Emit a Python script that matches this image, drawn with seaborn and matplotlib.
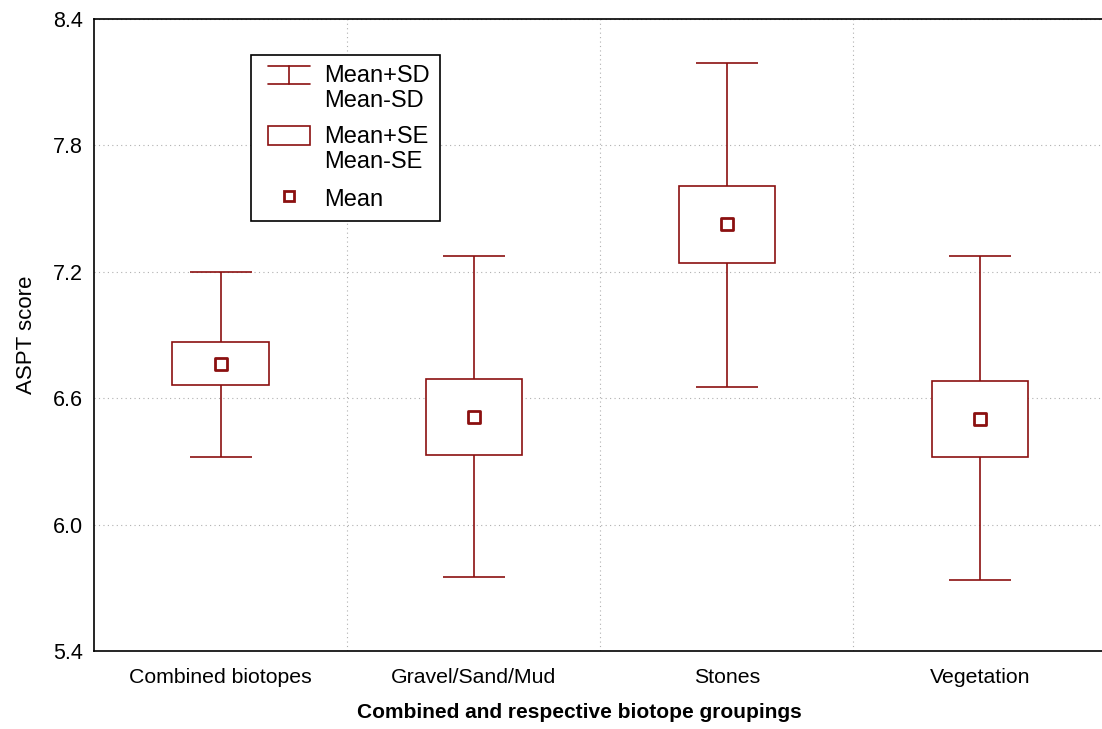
import matplotlib
matplotlib.use("Agg")
import matplotlib.pyplot as plt
import seaborn as sns
import pandas as pd
import numpy as np
from matplotlib.lines import Line2D
from matplotlib.patches import Rectangle
from matplotlib.legend_handler import HandlerBase

categories = ["Combined biotopes", "Gravel/Sand/Mud", "Stones", "Vegetation"]
mean = [6.763, 6.512, 7.425, 6.502]
se_low = [6.663, 6.332, 7.241, 6.322]
se_high = [6.867, 6.692, 7.605, 6.682]
sd_low = [6.322, 5.750, 6.654, 5.736]
sd_high = [7.198, 7.274, 8.192, 7.274]
y_ticks = [5.4, 6.0, 6.6, 7.2, 7.8, 8.4]
legend_labels = ["Mean+SD\nMean-SD", "Mean+SE\nMean-SE", "Mean"]

df = pd.DataFrame({"group": categories, "mean": mean, "se_low": se_low,
                   "se_high": se_high, "sd_low": sd_low, "sd_high": sd_high})

sns.set_style("white")
plt.rcParams["font.family"] = ["Liberation Sans", "DejaVu Sans"]

col = "#8b1010"
LW = 1.2
fig = plt.figure(figsize=(11.02, 7.29), dpi=100)
ax = fig.add_axes([94/1102, 1-651/729, (1106.5-94)/1102, (651-19)/729])

x = np.arange(len(categories))
# SD whiskers
ax.errorbar(x, df["mean"], yerr=[df["mean"]-df["sd_low"], df["sd_high"]-df["mean"]],
            fmt="none", ecolor=col, elinewidth=LW, capsize=22.3, capthick=LW, zorder=2)
# SE boxes
ax.bar(x, df["se_high"]-df["se_low"], bottom=df["se_low"], width=0.38,
       facecolor="white", edgecolor=col, linewidth=LW, zorder=3)
# Means
sns.scatterplot(data=df, x=x, y="mean", marker="s", s=72, facecolor="white",
                edgecolor=col, linewidth=2, ax=ax, zorder=4, legend=False)

ax.set_xlim(-0.5, 3.5)
ax.set_ylim(5.4, 8.4)
ax.set_yticks(y_ticks)
ax.set_yticklabels([f"{v:.1f}" for v in y_ticks])
ax.set_xticks(x)
ax.set_xticklabels(categories)
ax.set_xticks([0.5, 1.5, 2.5], minor=True)
ax.tick_params(axis="x", which="major", length=0, labelsize=15.3, pad=12, colors="black")
ax.tick_params(axis="x", which="minor", direction="in", length=4, width=1, color="black")
ax.tick_params(axis="y", which="major", direction="out", length=3, width=1, labelsize=15.5,
               pad=5, colors="black")
ax.grid(False)
ax.grid(True, axis="y", which="major", linestyle=(0, (1, 3)), color="#b0b0b0", linewidth=0.8)
ax.grid(True, axis="x", which="minor", linestyle=(0, (1, 3)), color="#b0b0b0", linewidth=0.8)
for s in ax.spines.values():
    s.set_color("black")
    s.set_linewidth(1.2)

ax.set_xlabel("Combined and respective biotope groupings", fontsize=15, fontweight="bold",
              color="black")
ax.xaxis.set_label_coords((579-94)/1012.5, -0.083)
ax.set_ylabel("ASPT score", fontsize=16, labelpad=11.5, color="black")

FS = 17.0


class SDKey:
    pass


class SEKey:
    pass


class SDHandler(HandlerBase):
    def create_artists(self, legend, orig, xdescent, ydescent, width, height, fontsize, trans):
        w = 42 / 100 * 72
        h = 18 / 100 * 72
        cx = width / 2 - xdescent
        cy = height / 2 - ydescent + 0.6 * fontsize
        arts = [
            Line2D([cx - w/2, cx + w/2], [cy + h/2, cy + h/2], color=col, lw=LW),
            Line2D([cx - w/2, cx + w/2], [cy - h/2, cy - h/2], color=col, lw=LW),
            Line2D([cx, cx], [cy - h/2, cy + h/2], color=col, lw=LW),
        ]
        for a in arts:
            a.set_transform(trans)
        return arts


class SEHandler(HandlerBase):
    def create_artists(self, legend, orig, xdescent, ydescent, width, height, fontsize, trans):
        w = 42 / 100 * 72
        h = 19 / 100 * 72
        cx = width / 2 - xdescent
        cy = height / 2 - ydescent + 0.6 * fontsize
        r = Rectangle((cx - w/2, cy - h/2), w, h, facecolor="white", edgecolor=col, lw=LW)
        r.set_transform(trans)
        return [r]


h_mean = Line2D([], [], linestyle="none", marker="s", markersize=7.5, markerfacecolor="white",
                markeredgecolor=col, markeredgewidth=2)
leg = ax.legend([SDKey(), SEKey(), h_mean], legend_labels,
                handler_map={SDKey: SDHandler(), SEKey: SEHandler()},
                loc="upper left", bbox_to_anchor=((251-94)/1012.5, (651-55)/632), borderaxespad=0,
                fontsize=FS, frameon=True, fancybox=False, edgecolor="black",
                handlelength=2.35, handleheight=1.0, labelspacing=0.58, handletextpad=0.34,
                borderpad=0.42)
for t in leg.get_texts():
    t.set_linespacing(1.2)
    t.set_color("black")
leg.get_frame().set_linewidth(1.2)
leg.get_frame().set_alpha(1)

fig.savefig("out.png", dpi=100)
